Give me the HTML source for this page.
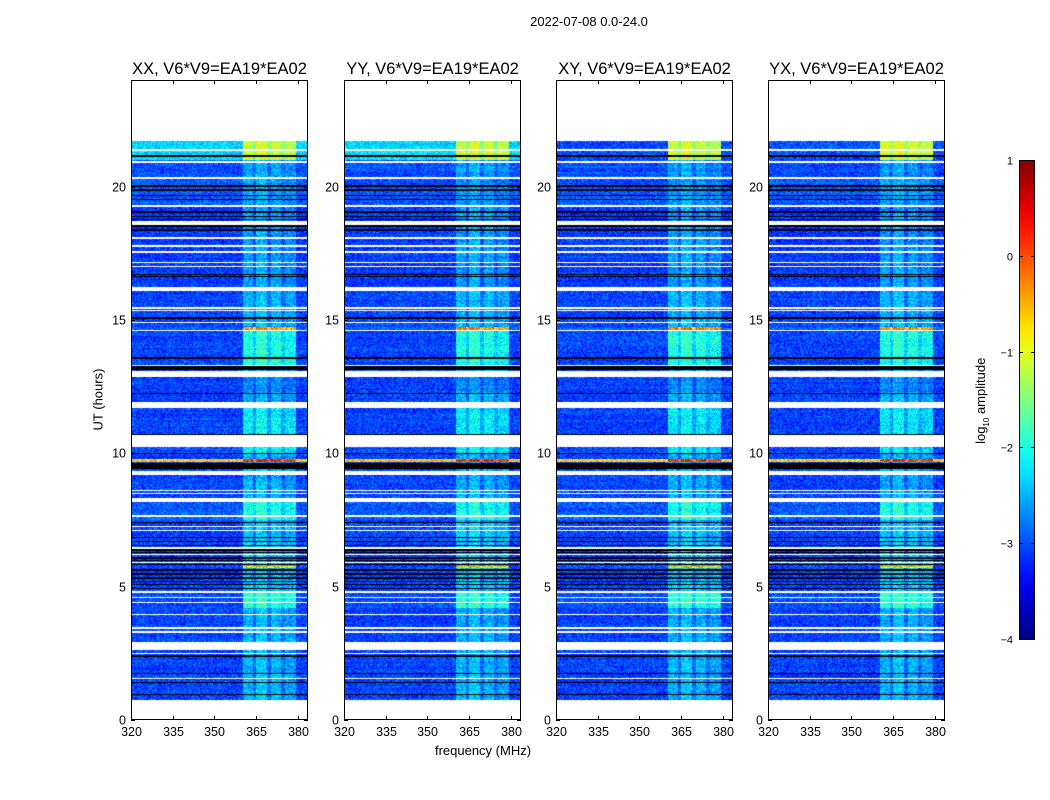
<!DOCTYPE html>
<html><head><meta charset="utf-8">
<style>
body{margin:0;background:#fff;}
#root{position:relative;width:1050px;height:800px;background:#fff;font-family:"Liberation Sans",sans-serif;color:#000;overflow:hidden}
.t{position:absolute;white-space:nowrap}
canvas{position:absolute}
</style></head>
<body>
<div id="root">
<div class="t" style="left:489px;top:14px;width:200px;text-align:center;font-size:13px">2022-07-08 0.0-24.0</div>
<div class="t" style="left:48px;top:392px;width:100px;text-align:center;font-size:13px;transform:rotate(-90deg)">UT (hours)</div>
<div class="t" style="left:383px;top:743px;width:200px;text-align:center;font-size:13px">frequency (MHz)</div>
<div class="t" style="left:922px;top:392px;width:120px;text-align:center;font-size:13px;transform:rotate(-90deg)">log<sub style="font-size:8px">10</sub> amplitude</div>
<svg id="ov" width="1050" height="800" style="position:absolute;left:0;top:0"></svg>
</div>
<script>
// ---- data ----
const panelTitles = ["XX, V6*V9=EA19*EA02","YY, V6*V9=EA19*EA02","XY, V6*V9=EA19*EA02","YX, V6*V9=EA19*EA02"];
const topRowBg = [-2.3,-2.3,-3.0,-3.0];
const xTicks = [320,335,350,365,380];
const yTicks = [0,5,10,15,20];
const cbTicks = [1,0,-1,-2,-3,-4];
// [startHour,endHour,backgroundLevel,bandLevel] (log10 amplitude)
const levelSegments = [
 [0.75,4.2,-3.05,-2.5],[4.2,4.8,-3.0,-1.9],[4.9,7.4,-3.05,-2.4],[5.7,5.78,-3.0,-0.6],
 [7.5,8.17,-2.95,-2.0],[8.5,9.19,-3.05,-2.55],[9.68,9.8,-0.6,0.2],[10.0,10.24,-3.0,-2.2],
 [10.7,11.7,-3.05,-2.2],[12.3,12.86,-3.05,-2.7],[13.3,14.62,-3.05,-2.0],[14.62,14.75,-2.9,-0.3],
 [14.75,16.1,-3.05,-2.5],[16.2,19.3,-3.1,-2.6],[19.3,20.3,-2.95,-2.6],[20.3,21.0,-3.0,-2.6],
 [21.0,21.72,null,-1.1]
];
const gapRows = [[0,0.75],[21.72,24],[21.35,21.4],[20.9,20.95],[20.3,20.35],[19.25,19.3],[18.65,18.7],[18.58,18.62],[18.05,18.1],[17.75,17.8],[17.53,17.57],[17.2,17.23],[17.13,17.16],[17.0,17.04],[16.1,16.22],[15.43,15.47],[15.35,15.39],[14.87,14.91],[14.58,14.62],[13.29,13.33],[12.86,13.1],[11.7,11.92],[10.24,10.7],[9.19,9.34],[8.6,8.64],[8.49,8.53],[8.17,8.32],[7.63,7.67],[7.22,7.26],[7.1,7.14],[6.43,6.47],[6.17,6.21],[5.87,5.91],[4.78,4.82],[4.59,4.63],[4.37,4.41],[3.92,3.96],[3.43,3.47],[3.28,3.32],[2.62,2.92],[2.49,2.53],[1.55,1.59]];
const flaggedRows = [[21.1,21.18],[20.0,20.05],[19.85,19.9],[19.65,19.7],[19.5,19.55],[19.0,19.08],[18.85,18.9],[18.75,18.8],[18.5,18.55],[18.35,18.42],[16.7,16.74],[16.63,16.66],[15.05,15.1],[13.55,13.6],[13.14,13.26],[12.24,12.28],[10.7,10.74],[9.99,10.03],[9.43,9.62],[7.37,7.41],[6.83,6.88],[6.68,6.72],[6.53,6.57],[6.35,6.4],[6.25,6.3],[6.05,6.1],[5.95,5.99],[5.8,5.84],[5.6,5.65],[5.45,5.5],[5.3,5.35],[5.18,5.23],[5.05,5.1],[4.9,4.95],[2.38,2.42],[1.74,1.78],[1.4,1.44],[0.92,0.96]];
// [freqStart,freqEnd,levelOffset] within RFI band
const bandChannels = [[360.2,364.0,0],[364.0,365.0,-0.35],[365.0,369.0,0.1],[369.0,370.2,-0.35],[370.2,374.0,0],[374.0,375.3,-0.3],[375.3,379.3,-0.1]];

// ---- layout ----
const panelX = [131,344,556,768], PW=177, PT=80, PB=720;
const F0=320, F1=383.6, H0=0, H1=24;
const xOf=(f,p)=>panelX[p]+(f-F0)/(F1-F0)*PW;
const yOf=h=>PB-(h-H0)/(H1-H0)*(PB-PT);
const fOf=(x)=>F0+x/PW*(F1-F0);
const hOf=(y)=>H1-y/(PB-PT)*(H1-H0);
const cbX=1019,cbW=15,cbT=160,cbB=639,V0=-4,V1=1;
const cbY=v=>cbB-(v-V0)/(V1-V0)*(cbB-cbT);

function jet(t){t=Math.max(0,Math.min(1,t));const c=x=>Math.round(255*Math.max(0,Math.min(1,x)));
 return [c(1.5-Math.abs(4*t-3)),c(1.5-Math.abs(4*t-2)),c(1.5-Math.abs(4*t-1))];}
function hash(a,b){let h=(a*374761393+b*668265263)|0;h=(h^(h>>>13))*1274126177|0;return ((h^(h>>>16))>>>0)/4294967296;}
const inAny=(arr,h)=>arr.some(r=>h>=r[0]&&h<r[1]);

const root=document.getElementById('root');
const NS='http://www.w3.org/2000/svg';
const ov=document.getElementById('ov');
function sv(tag,attrs,parent){const e=document.createElementNS(NS,tag);for(const k in attrs)e.setAttribute(k,attrs[k]);(parent||ov).appendChild(e);return e;}

for(let p=0;p<4;p++){
 const cv=document.createElement('canvas');
 cv.width=PW;cv.height=PB-PT;cv.style.left=panelX[p]+'px';cv.style.top=PT+'px';
 
 
 root.insertBefore(cv,ov);
 const ctx=cv.getContext('2d');const img=ctx.createImageData(PW,PB-PT);const d=img.data;
 for(let y=0;y<PB-PT;y++){
  const h=hOf(y+0.5);
  let col=null;
  if(inAny(gapRows,h)) col=[255,255,255];
  else if(inAny(flaggedRows,h)) col=[0,0,0];
  let seg=null;for(const s of levelSegments) if(h>=s[0]&&h<s[1]) seg=s;
  for(let x=0;x<PW;x++){
   const i=(y*PW+x)*4;let c=col;
   if(!c){
    const f=fOf(x+0.5);
    let bg=seg?(seg[2]===null?topRowBg[p]:seg[2]):-3.05;
    let v=bg;
    for(const b of bandChannels) if(f>=b[0]&&f<b[1]){v=(seg?seg[3]:-2.5)+b[2];if(v<bg+0.15)v=bg+0.15;}
    v+= (hash(x+p*313,y)-0.5)*0.75 + (hash(7,(y>>1)+p*97)-0.5)*0.15;
    c=jet((v-V0)/(V1-V0));
   }
   d[i]=c[0];d[i+1]=c[1];d[i+2]=c[2];d[i+3]=255;
  }
 }
 ctx.putImageData(img,0,0);
 const fr=sv('rect',{x:panelX[p]+0.5,y:PT+0.5,width:PW-1,height:PB-PT-1,fill:'none',stroke:'#000','stroke-width':1});
 
 const tt=sv('text',{x:panelX[p]+PW/2,y:74,'text-anchor':'middle','font-size':16.5,'font-family':'Liberation Sans, sans-serif'});
 tt.textContent=panelTitles[p];
 
 for(const f of xTicks){const x=Math.round(xOf(f,p))+0.5;
  sv('line',{x1:x,x2:x,y1:PB,y2:PB-4,stroke:'#000'});sv('line',{x1:x,x2:x,y1:PT,y2:PT+4,stroke:'#000'});
  const l=sv('text',{x:x,y:PB+16,'text-anchor':'middle','font-size':12.5,'font-family':'Liberation Sans, sans-serif'});l.textContent=f;
  }
 for(const h of yTicks){const y=Math.round(yOf(h))+0.5;
  sv('line',{x1:panelX[p],x2:panelX[p]+4,y1:y,y2:y,stroke:'#000'});sv('line',{x1:panelX[p]+PW-4,x2:panelX[p]+PW,y1:y,y2:y,stroke:'#000'});
  const l=sv('text',{x:panelX[p]-5,y:y+4,'text-anchor':'end','font-size':12.5,'font-family':'Liberation Sans, sans-serif'});l.textContent=h;
  }
}
const defs=sv('defs',{});const g=sv('linearGradient',{id:'jetg',x1:0,y1:1,x2:0,y2:0},defs);
for(let k=0;k<=20;k++){const c=jet(k/20);sv('stop',{offset:k/20,'stop-color':`rgb(${c})`},g);}
const cb=sv('rect',{x:cbX+0.5,y:cbT+0.5,width:cbW,height:cbB-cbT,fill:'url(#jetg)',stroke:'#000'});

for(const v of cbTicks){const y=Math.round(cbY(v))+0.5;
 sv('line',{x1:cbX,x2:cbX+4,y1:y,y2:y,stroke:'#000'});sv('line',{x1:cbX+cbW-3,x2:cbX+cbW+1,y1:y,y2:y,stroke:'#000'});
 const l=sv('text',{x:cbX-6,y:y+4,'text-anchor':'end','font-size':11,'font-family':'Liberation Sans, sans-serif'});l.textContent=v<0?'\u2212'+(-v):v;
 }
</script>
</body></html>
